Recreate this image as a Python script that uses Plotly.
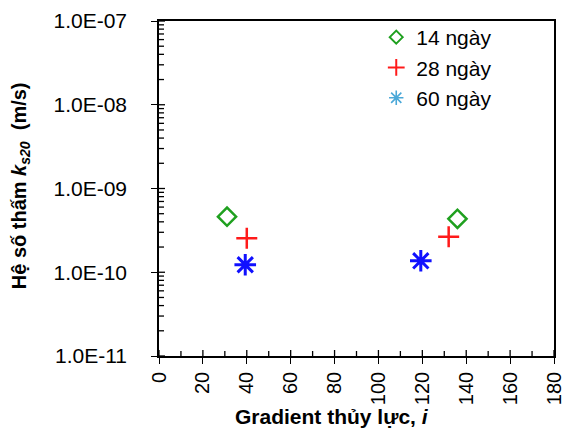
import plotly.graph_objects as go

# Data
series_names = ["14 ngày", "28 ngày", "60 ngày"]
x_14 = [31.0, 136.0]
y_14 = [4.6e-10, 4.35e-10]
x_28 = [40.0, 132.0]
y_28 = [2.55e-10, 2.65e-10]
x_60 = [39.3, 119.3]
y_60 = [1.23e-10, 1.37e-10]

y_tickvals = [1e-11, 1e-10, 1e-9, 1e-8, 1e-7]
y_ticktext = ["1.0E-11", "1.0E-10", "1.0E-09", "1.0E-08", "1.0E-07"]
x_tickvals = [0, 20, 40, 60, 80, 100, 120, 140, 160, 180]
x_minor_vals = [10, 30, 50, 70, 90, 110, 130, 150, 170]
y_minor_vals = [m * d for d in y_tickvals[:-1] for m in range(2, 10)]

FONT = "Arial, Liberation Sans, sans-serif"

green = "#1fa01f"
red = "#ff1a1a"
blue = "#1010ff"
lightblue = "#4aa8d8"

fig = go.Figure()

fig.add_trace(go.Scatter(x=x_14, y=y_14, mode="markers", showlegend=False,
                         marker=dict(symbol="diamond-open", size=14, color=green,
                                     line=dict(width=2.5, color=green))))
fig.add_trace(go.Scatter(x=x_28, y=y_28, mode="markers", showlegend=False,
                         marker=dict(symbol="cross-thin-open", size=15, color=red,
                                     line=dict(width=2.5, color=red))))
fig.add_trace(go.Scatter(x=x_60, y=y_60, mode="markers", showlegend=False,
                         marker=dict(symbol="asterisk-open", size=18, color=blue,
                                     line=dict(width=3, color=blue))))

leg_styles = [
    dict(symbol="diamond-open", size=10, color=green, line=dict(width=2, color=green)),
    dict(symbol="cross-thin-open", size=12, color=red, line=dict(width=2, color=red)),
    dict(symbol="asterisk-open", size=12, color=lightblue, line=dict(width=1.6, color=lightblue)),
]
for name, st in zip(series_names, leg_styles):
    fig.add_trace(go.Scatter(x=[None], y=[None], mode="markers", name=name, marker=st))

fig.update_layout(
    width=574, height=434,
    margin=dict(l=159, r=9, t=16, b=78),
    paper_bgcolor="white", plot_bgcolor="white",
    font=dict(family=FONT, color="black", size=20),
    showlegend=True,
    legend=dict(x=0.55, y=1.012, xanchor="left", yanchor="top",
                bgcolor="rgba(0,0,0,0)", font=dict(size=21, family=FONT),
                itemwidth=30),
    xaxis=dict(
        range=[0, 180], tickvals=x_tickvals, tickangle=-90,
        showline=True, linecolor="black", linewidth=1.5, mirror=True,
        ticks="outside", ticklen=6, tickwidth=1.2, tickcolor="black",
        showgrid=False, zeroline=False,
        tickfont=dict(size=20, family=FONT),
    ),
    yaxis=dict(
        type="log", range=[-11, -7], tickvals=y_tickvals, ticktext=y_ticktext,
        showline=True, linecolor="black", linewidth=1.5, mirror=True,
        ticks="outside", ticklen=6, tickwidth=1.2, tickcolor="black",
        showgrid=False, zeroline=False,
        tickfont=dict(size=21, family=FONT), ticklabelstandoff=20,
    ),
)

# inner tick marks (inner half of major ticks + minor ticks), sized in pixels
tick_line = dict(color="black", width=1.3)
for v, ln in [(v, 6) for v in x_tickvals] + [(v, 5) for v in x_minor_vals]:
    fig.add_shape(type="line", xref="x", yref="paper", ysizemode="pixel", yanchor=0,
                  x0=v, x1=v, y0=0, y1=ln, line=tick_line, layer="above")
for v, ln in [(v, 6) for v in y_tickvals] + [(v, 5) for v in y_minor_vals]:
    fig.add_shape(type="line", xref="paper", yref="y", xsizemode="pixel", xanchor=0,
                  x0=0, x1=ln, y0=v, y1=v, line=tick_line, layer="above")

fig.add_annotation(xref="paper", yref="paper", x=-0.35, y=0.509,
                   text="<b>Hệ số thấm <i>k</i><sub><i>s20</i></sub>  (m/s)</b>",
                   textangle=-90, showarrow=False, xanchor="center", yanchor="middle",
                   font=dict(size=20, family=FONT))
fig.add_annotation(xref="paper", yref="paper", x=0.438, y=-0.182,
                   text="<b>Gradient thủy lực, <i>i</i></b>",
                   showarrow=False, xanchor="center", yanchor="middle",
                   font=dict(size=21, family=FONT))

fig.write_html("out.html")
